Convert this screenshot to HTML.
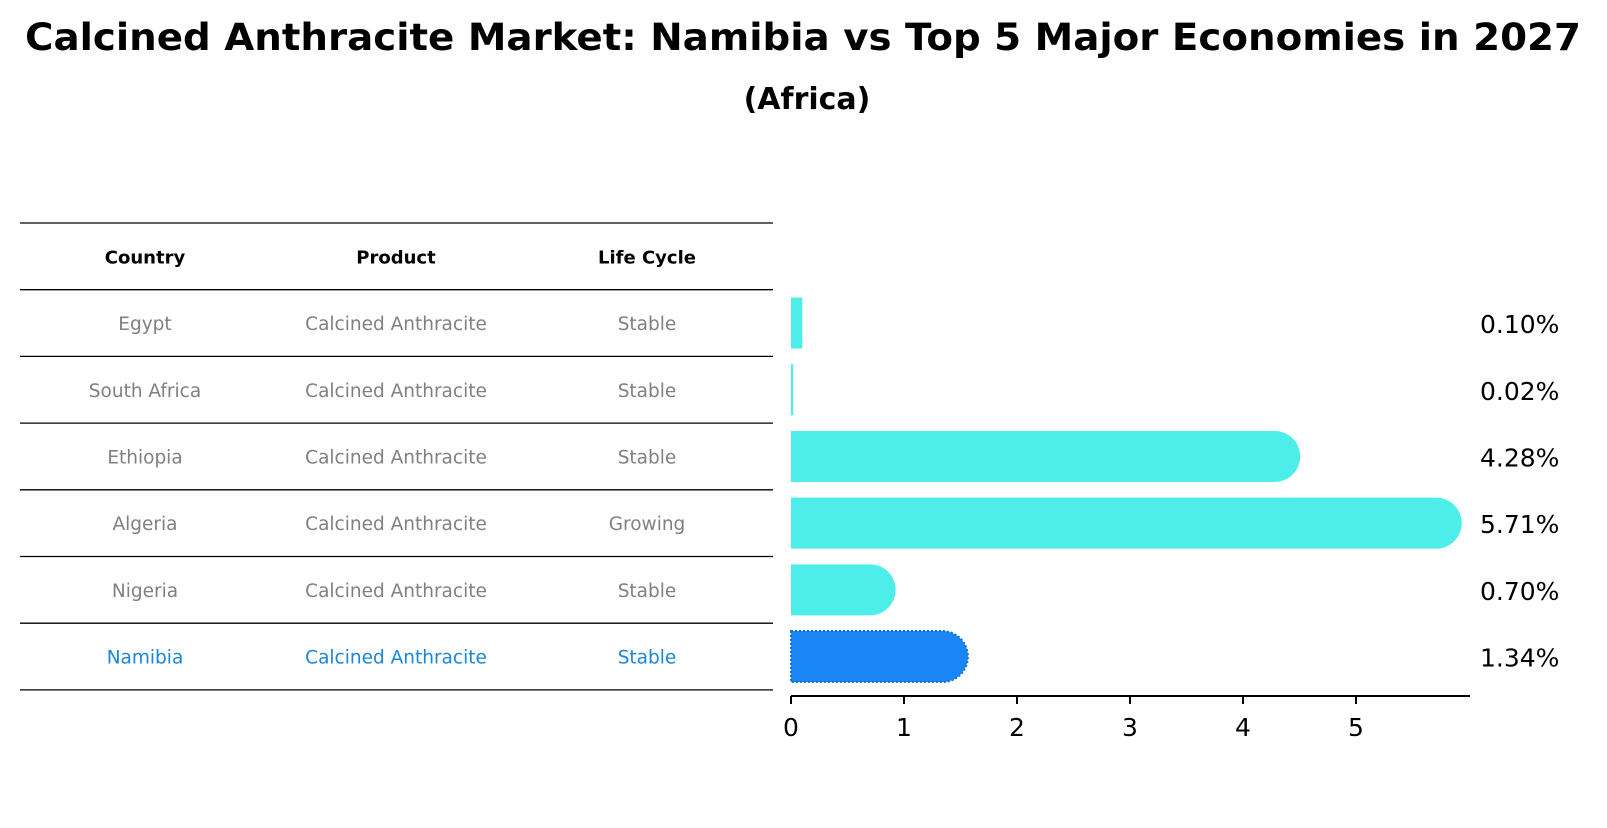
<!DOCTYPE html>
<html><head><meta charset="utf-8"><style>
body{margin:0;background:#fff;}
svg text{font-family:"DejaVu Sans","Liberation Sans",sans-serif;}
</style></head><body>
<svg id="chart" width="1607" height="823" viewBox="0 0 1607 823" xmlns="http://www.w3.org/2000/svg">
<text x="803" y="50" text-anchor="middle" font-size="37" font-weight="bold" textLength="1556" lengthAdjust="spacingAndGlyphs">Calcined Anthracite Market: Namibia vs Top 5 Major Economies in 2027</text>
<text x="807" y="109" text-anchor="middle" font-size="30" font-weight="bold">(Africa)</text>
<g id="table"></g>
<g id="bars"></g>
</svg>
<script>
const countries = ["Egypt","South Africa","Ethiopia","Algeria","Nigeria","Namibia"];
const products = ["Calcined Anthracite","Calcined Anthracite","Calcined Anthracite","Calcined Anthracite","Calcined Anthracite","Calcined Anthracite"];
const lifeCycles = ["Stable","Stable","Stable","Growing","Stable","Stable"];
const values = [0.10,0.02,4.28,5.71,0.70,1.34];
const valueLabels = ["0.10%","0.02%","4.28%","5.71%","0.70%","1.34%"];
const headers = ["Country","Product","Life Cycle"];
const ticks = [0,1,2,3,4,5];

const NS="http://www.w3.org/2000/svg";
function mk(tag,attrs,parent){const e=document.createElementNS(NS,tag);for(const k in attrs)e.setAttribute(k,attrs[k]);parent.appendChild(e);return e;}
const tbl=document.getElementById('table'), bars=document.getElementById('bars');
const top0=223, rowH=66.7, tL=20, tR=773, colX=[145,396,647];
const x0=791, unit=113, barH=51, r=25.5;
const xs=v=>x0+v*unit;
const rowC=i=>top0+rowH*(i+1.5);

for(let i=0;i<=countries.length+1;i++){
  const ln=mk('line',{x1:tL,x2:tR,y1:top0+i*rowH,y2:top0+i*rowH,stroke:'#000','stroke-width':1.3},tbl);
  
  
}
headers.forEach((h,j)=>{
  const t=mk('text',{x:colX[j],y:top0+rowH*0.5+7,'text-anchor':'middle','font-size':18,'font-weight':'bold'},tbl);
  t.textContent=h;
  
  
});
countries.forEach((c,i)=>{
  const col = c==="Namibia" ? "#1a86d9" : "#808080";
  [c,products[i],lifeCycles[i]].forEach((s,j)=>{
    const t=mk('text',{x:colX[j],y:rowC(i)+7,'text-anchor':'middle','font-size':18.5,fill:col},tbl);
    t.textContent=s;
    
    
  });
  const v=values[i], w=xs(v)-x0, yT=rowC(i)-barH/2;
  const hi = c==="Namibia";
  const fill = hi ? "#1a86f5" : "#4deeea";
  let d;
  if(w>r){
    d=`M${x0},${yT} H${x0+w} A${r},${barH/2} 0 0 1 ${x0+w},${yT+barH} H${x0} Z`;
  } else {
    d=`M${x0},${yT} H${x0+Math.max(w,1.5)} V${yT+barH} H${x0} Z`;
  }
  const p=mk('path',{d:d,fill:fill},bars);
  if(hi){p.setAttribute('stroke','#1670d8');p.setAttribute('stroke-width','2');p.setAttribute('stroke-dasharray','2 2');}
  
  
  const t=mk('text',{x:1480,y:rowC(i)+10,'font-size':25},bars);
  t.textContent=valueLabels[i];
  
  
});
const ax=mk('line',{x1:x0,x2:1470,y1:696,y2:696,stroke:'#000','stroke-width':2},bars);


ticks.forEach(tv=>{
  const tk=mk('line',{x1:xs(tv),x2:xs(tv),y1:696,y2:704,stroke:'#000','stroke-width':2},bars);
  
  
  const t=mk('text',{x:xs(tv),y:736,'text-anchor':'middle','font-size':25},bars);
  t.textContent=String(tv);
  
  
});
</script>
</body></html>
